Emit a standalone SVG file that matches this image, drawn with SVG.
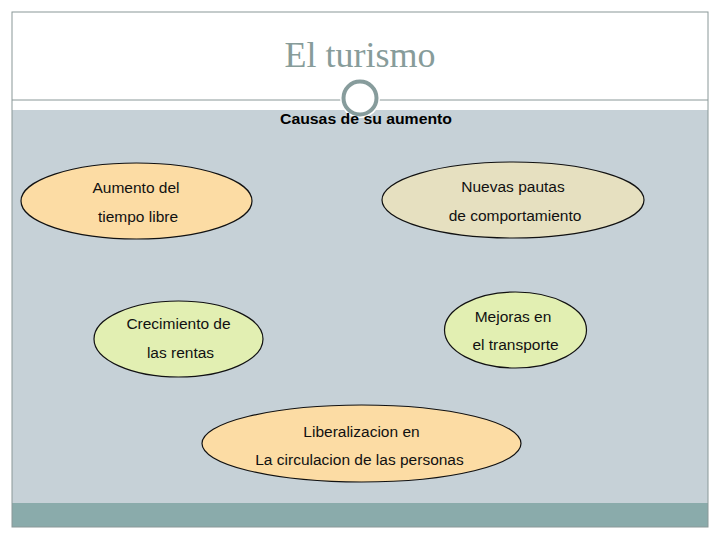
<svg xmlns="http://www.w3.org/2000/svg" width="720" height="540" viewBox="0 0 720 540">
<style>
.lbl{font-family:"Liberation Sans",Arial,sans-serif;font-size:15.5px;fill:#111;text-anchor:middle}
.ell{stroke:#111;stroke-width:1.2}
</style>
<rect width="720" height="540" fill="#ffffff"/>
<rect x="12" y="110" width="696" height="393" fill="#c6d1d7"/>
<rect x="12" y="503" width="696" height="24" fill="#8aabab"/>
<rect x="12" y="12" width="696" height="515" fill="none" stroke="#8a9898" stroke-width="1"/>
<line x1="12" y1="100" x2="708" y2="100" stroke="#8a9898" stroke-width="1"/>
<circle cx="360" cy="98" r="20" fill="#ffffff"/>
<circle cx="360" cy="98" r="16.5" fill="#ffffff" stroke="#879c9c" stroke-width="4"/>
<text x="360" y="67" text-anchor="middle" font-family="'Liberation Serif','Times New Roman',serif" font-size="36" fill="#879c9a">El turismo</text>
<text x="366" y="124" text-anchor="middle" font-family="'Liberation Sans',Arial,sans-serif" font-size="14" font-weight="bold" fill="#000" textLength="172" lengthAdjust="spacingAndGlyphs">Causas de su aumento</text>
<g id="connectors"></g>
<g id="n1">
<ellipse class="ell" cx="136.5" cy="201" rx="115.5" ry="38" fill="#fcdca4"/>
<text class="lbl" x="136" y="193">Aumento del</text>
<text class="lbl" x="138" y="222">tiempo libre</text>
</g>
<g id="n2">
<ellipse class="ell" cx="513" cy="200" rx="131" ry="38" fill="#e6e0c0"/>
<text class="lbl" x="513" y="192">Nuevas pautas</text>
<text class="lbl" x="515" y="221">de comportamiento</text>
</g>
<g id="n3">
<ellipse class="ell" cx="178.5" cy="339" rx="84.5" ry="38" fill="#e2efb2"/>
<text class="lbl" x="178.5" y="329">Crecimiento de</text>
<text class="lbl" x="180.5" y="358">las rentas</text>
</g>
<g id="n4">
<ellipse class="ell" cx="515.5" cy="330" rx="71" ry="38" fill="#e2efb2"/>
<text class="lbl" x="513" y="322">Mejoras en</text>
<text class="lbl" x="515.5" y="350">el transporte</text>
</g>
<g id="n5">
<ellipse class="ell" cx="361.5" cy="443.5" rx="159.5" ry="38.5" fill="#fcdca4"/>
<text class="lbl" x="361.5" y="437">Liberalizacion en</text>
<text class="lbl" x="359.5" y="465">La circulacion de las personas</text>
</g>
</svg>
